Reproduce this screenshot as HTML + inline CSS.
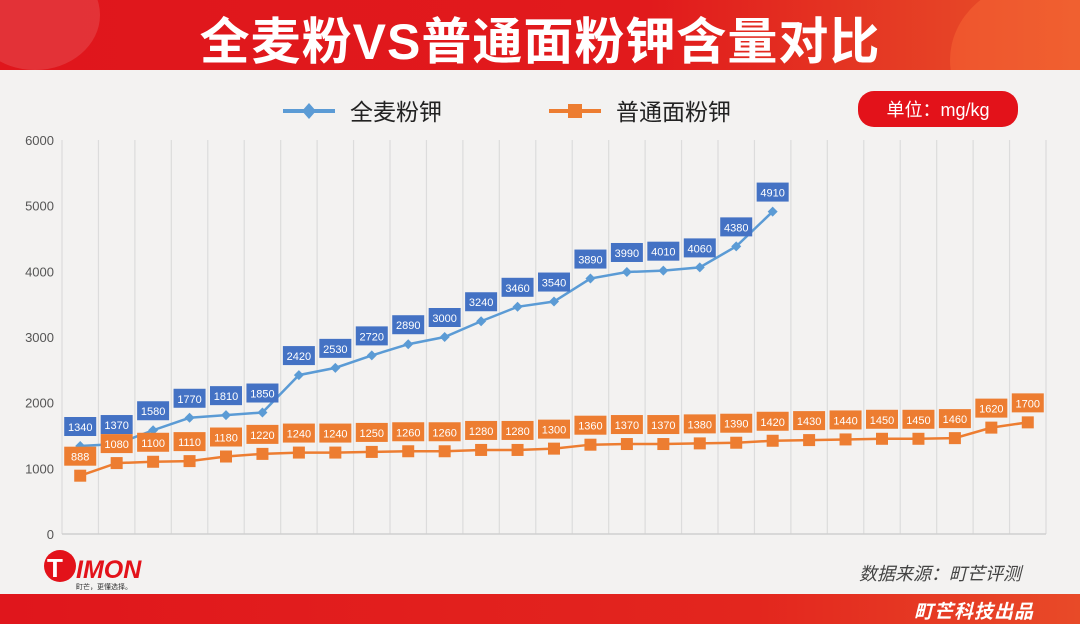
<!DOCTYPE html>
<html><head><meta charset="utf-8"><style>
body{margin:0;width:1080px;height:624px;overflow:hidden;background:#f3f2f1;font-family:"Liberation Sans","Noto Sans CJK SC",sans-serif;position:relative}
.hdr{position:absolute;left:0;top:0;width:1080px;height:70px;background:linear-gradient(90deg,#e0161c 0%,#e11a1c 60%,#e8542a 100%);overflow:hidden}
.hdr .c1{position:absolute;left:-30px;top:-40px;width:130px;height:110px;border-radius:50%;background:rgba(255,255,255,.12)}
.hdr .c2{position:absolute;left:950px;top:-20px;width:180px;height:160px;border-radius:50%;background:rgba(255,120,60,.35)}
.title{position:absolute;left:0;top:2px;width:1080px;text-align:center;color:#fff;font-size:50px;font-weight:bold;letter-spacing:1px}
.foot{position:absolute;left:0;top:594px;width:1080px;height:30px;background:linear-gradient(90deg,#e0161c,#e3261e 70%,#e84a28)}
.foot span{position:absolute;right:46px;top:3px;color:#fff;font-size:19px;font-style:italic;font-weight:bold;letter-spacing:1px}
</style></head><body>
<div class="hdr"><div class="c1"></div><div class="c2"></div>
<div class="title">全麦粉VS普通面粉钾含量对比</div></div>
<svg id="ch" width="1080" height="624" style="position:absolute;left:0;top:0">
<g id="grid"></g><g id="marks"></g>
<g>
<g><line x1="283" y1="111" x2="335" y2="111" stroke="#5b9bd5" stroke-width="4"/><path d="M309 103 L316 111 L309 119 L302 111Z" fill="#5b9bd5"/><text x="350" y="120" font-size="23" fill="#222">全麦粉钾</text></g>
<g><line x1="549" y1="111" x2="601" y2="111" stroke="#ed7d31" stroke-width="4"/><rect x="568" y="104" width="14" height="14" fill="#ed7d31"/><text x="616" y="120" font-size="23" fill="#222">普通面粉钾</text></g>
</g>
<g><rect x="858" y="91" width="160" height="36" rx="16" fill="#e3121a"/><text x="938" y="116" font-size="18" fill="#fff" text-anchor="middle">单位：mg/kg</text></g>
<text x="940" y="580" font-size="18" font-style="italic" fill="#444" text-anchor="middle">数据来源：町芒评测</text>
<g><circle cx="60" cy="566" r="16" fill="#e3121a"/><text x="47" y="577" font-size="26" font-weight="bold" fill="#fff">T</text><text x="76" y="578" font-size="25" font-weight="bold" font-style="italic" fill="#e3121a">IMON</text><text x="76" y="589" font-size="7" fill="#333">町芒，更懂选择。</text></g>
</svg>
<div class="foot"><span>町芒科技出品</span></div>
<script>
const wholeWheat=[1340,1370,1580,1770,1810,1850,2420,2530,2720,2890,3000,3240,3460,3540,3890,3990,4010,4060,4380,4910];
const regular=[888,1080,1100,1110,1180,1220,1240,1240,1250,1260,1260,1280,1280,1300,1360,1370,1370,1380,1390,1420,1430,1440,1450,1450,1460,1620,1700];
const yTicks=[0,1000,2000,3000,4000,5000,6000];
const N=27,L=62,R=1046,Y0=534,Y1=140,ymax=6000;
const step=(R-L)/N;
const xs=i=>L+step*(i+0.5);
const ys=v=>Y0-(v/ymax)*(Y0-Y1);
const NS='http://www.w3.org/2000/svg';
function mk(t,a,p){const e=document.createElementNS(NS,t);for(const k in a)e.setAttribute(k,a[k]);p.appendChild(e);return e;}
const g=document.getElementById('grid'),m=document.getElementById('marks');
for(let i=0;i<=N;i++){const x=L+step*i;const l=mk('line',{x1:x,x2:x,y1:Y1,y2:Y0,stroke:'#dcdcdc','stroke-width':1.2},g);

}
mk('line',{x1:L,x2:R,y1:Y0,y2:Y0,stroke:'#cfcfcf','stroke-width':1.5},g);
yTicks.forEach(v=>{const t=mk('text',{x:54,y:ys(v)+5,'font-size':13,fill:'#555','text-anchor':'end'},g);t.textContent=v;

});
function series(arr,col,shape,name,labCol){
 const p=mk('polyline',{points:arr.map((v,i)=>xs(i)+','+ys(v)).join(' '),fill:'none',stroke:col,'stroke-width':2.5},m);
 
 
 arr.forEach((v,i)=>{const x=xs(i),y=ys(v);let e;
  if(shape==='d')e=mk('path',{d:`M${x} ${y-5}L${x+5} ${y}L${x} ${y+5}L${x-5} ${y}Z`,fill:col},m);
  else e=mk('rect',{x:x-6,y:y-6,width:12,height:12,fill:col},m);
  
  
  const r=mk('rect',{x:x-16,y:y-29,width:32,height:19,fill:labCol},m);
  
  
  const t=mk('text',{x:x,y:y-15,'font-size':11,fill:'#fff','text-anchor':'middle'},m);t.textContent=v;
  
  });
}
series(wholeWheat,'#5b9bd5','d','whole-wheat','#4472c4');
series(regular,'#ed7d31','s','regular-flour','#ed7d31');
</script>
</body></html>
